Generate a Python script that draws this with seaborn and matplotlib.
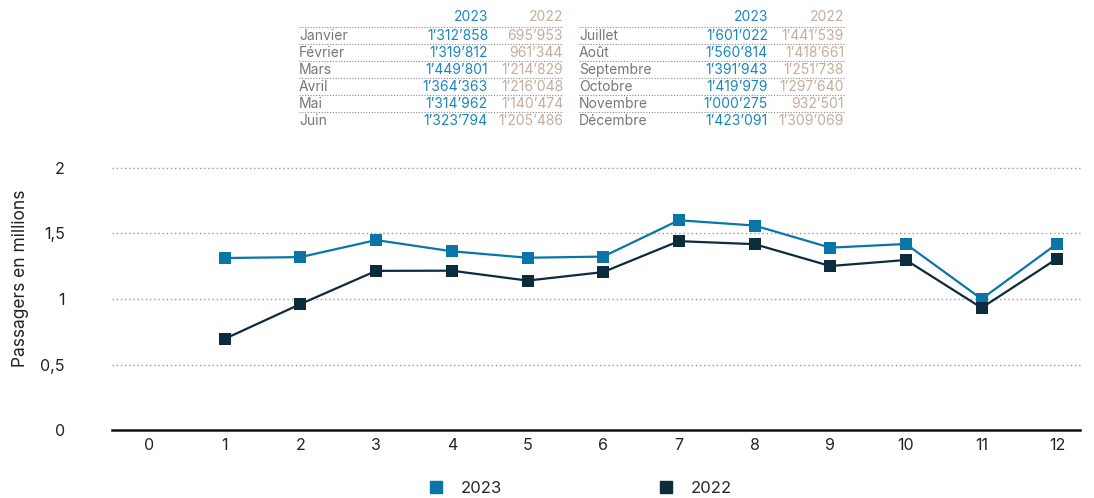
import pandas as pd
import seaborn as sns
import matplotlib.pyplot as plt
from matplotlib.lines import Line2D

months = [1, 2, 3, 4, 5, 6, 7, 8, 9, 10, 11, 12]
month_names = ["Janvier", "Février", "Mars", "Avril", "Mai", "Juin",
               "Juillet", "Août", "Septembre", "Octobre", "Novembre", "Décembre"]
pax_2023 = [1312858, 1319812, 1449801, 1364363, 1314962, 1323794,
            1601022, 1560814, 1391943, 1419979, 1000275, 1423091]
pax_2022 = [695953, 961344, 1214829, 1216048, 1140474, 1205486,
            1441539, 1418661, 1251738, 1297640, 932501, 1309069]
y_ticks = [0, 0.5, 1, 1.5, 2]
y_labels = ["0", "0,5", "1", "1,5", "2"]
x_ticks = list(range(0, 13))

c23 = "#0a76a8"
c22 = "#0c2b3b"
c23_txt = "#1a86bd"
c22_txt = "#c5ac9c"
grey = "#777777"

sns.set_theme(style="white")
plt.rcParams["font.family"] = ["Inter", "DejaVu Sans"]

df = pd.DataFrame({
    "mois": months * 2,
    "millions": [v / 1e6 for v in pax_2023] + [v / 1e6 for v in pax_2022],
    "annee": ["2023"] * 12 + ["2022"] * 12,
})

fig = plt.figure(figsize=(10.94, 4.98), dpi=100)
ax = fig.add_axes([112 / 1094, 68 / 498, (1080 - 112) / 1094, 262 / 498])

sns.lineplot(
    data=df,
    x="mois",
    y="millions",
    hue="annee",
    hue_order=["2023", "2022"],
    palette={"2023": c23, "2022": c22},
    marker="s",
    markersize=9,
    markeredgewidth=0,
    linewidth=1.6,
    legend=False,
    ax=ax
)

ax.set_xlim(-0.49, 12.3)
ax.set_ylim(0, 2)
ax.set_xticks(x_ticks)
ax.set_xticklabels([str(t) for t in x_ticks])
ax.set_yticks(y_ticks)
ax.set_yticklabels(y_labels)
ax.tick_params(axis="y", length=0, pad=34, labelsize=11.5, colors="#222222")
ax.tick_params(axis="x", length=0, pad=6, labelsize=11.5, colors="#222222")
ax.set_xlabel("")
ax.set_ylabel("Passagers en millions", fontsize=12.5, color="#222222")
ax.yaxis.set_label_coords(-0.086, 0.58)

for v in y_ticks[1:]:
    ax.axhline(v, color="#999999", linestyle=(0, (1, 2)), linewidth=1, zorder=0, clip_on=False)

for s in ["left", "right", "top"]:
    ax.spines[s].set_visible(False)
ax.spines["bottom"].set_color("#111111")
ax.spines["bottom"].set_linewidth(1.8)

handles = [
    Line2D([], [], marker="s", linestyle="", color=c23, markersize=9),
    Line2D([], [], marker="s", linestyle="", color=c22, markersize=9),
]
fig.legend(
    handles,
    ["2023", "2022"],
    loc="center",
    bbox_to_anchor=(580 / 1094, 1 - 488 / 498),
    ncol=2,
    frameon=False,
    fontsize=12,
    handlelength=1,
    handletextpad=1.0,
    columnspacing=9.3,
)

# monthly table on top
tab = fig.add_axes([0, 0, 1, 1])
tab.set_xlim(0, 1094)
tab.set_ylim(498, 0)
tab.axis("off")

for b, (x0, x1, x2) in enumerate([(299, 488, 563), (579, 768, 844)]):
    tab.text(x1, 17, "2023", color=c23_txt, fontsize=10, ha="right", va="center")
    tab.text(x2, 17, "2022", color=c22_txt, fontsize=10, ha="right", va="center")
    for i in range(6):
        k = b * 6 + i
        y = 36 + i * 17
        tab.plot([x0, x2], [y - 9, y - 9], color="#888888", linestyle=(0, (1, 1.5)), linewidth=0.8)
        tab.text(x0, y, month_names[k], color=grey, fontsize=10, ha="left", va="center")
        tab.text(x1, y, f"{pax_2023[k]:,}".replace(",", "’"), color=c23_txt, fontsize=10, ha="right", va="center")
        tab.text(x2, y, f"{pax_2022[k]:,}".replace(",", "’"), color=c22_txt, fontsize=10, ha="right", va="center")

fig.savefig("out.png", dpi=100)
